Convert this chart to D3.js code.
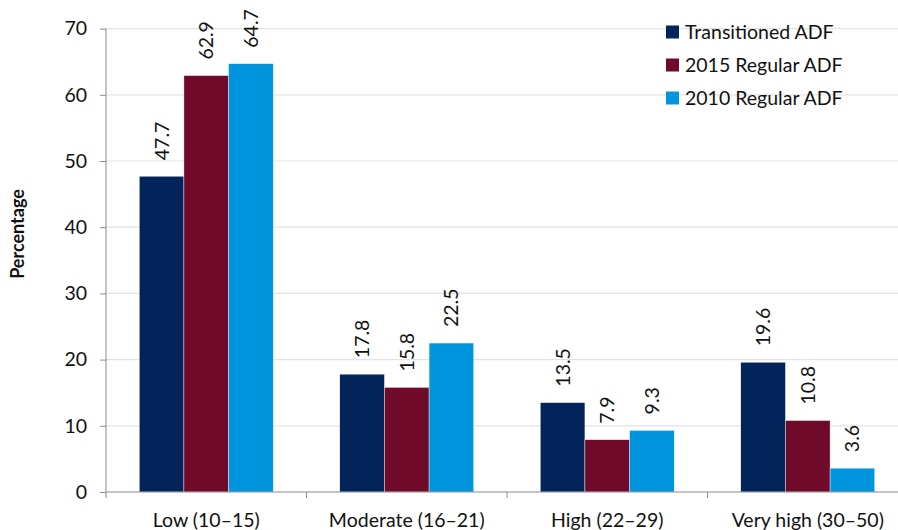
<!DOCTYPE html>
<html><head><meta charset="utf-8">
<script src="https://cdn.jsdelivr.net/npm/d3@7"></script>
<style>body{margin:0;background:#fff}svg{display:block;font-family:Lato,"Open Sans",sans-serif}</style>
</head><body><svg id="c" width="898" height="530"></svg>
<script>
const categories = ["Low (10–15)", "Moderate (16–21)", "High (22–29)", "Very high (30–50)"];
const seriesNames = ["Transitioned ADF", "2015 Regular ADF", "2010 Regular ADF"];
const transitioned = [47.7, 17.8, 13.5, 19.6];
const regular2015 = [62.9, 15.8, 7.9, 10.8];
const regular2010 = [64.7, 22.5, 9.3, 3.6];
const yTicks = [0, 10, 20, 30, 40, 50, 60, 70];
const colors = ["#03235b", "#6f0a2a", "#0095dc"];

(function () {
const seriesValues = [transitioned, regular2015, regular2010];
const svg = d3.select("#c");
const pLeft = 106, pRight = 908, pTop = 28.6, pBottom = 492;
const fs = 19.5;

const y = d3.scaleLinear().domain([0, 70]).range([pBottom, pTop]);
const x0 = d3.scaleBand().domain(categories).range([pLeft, pRight]).paddingInner(0.332).paddingOuter(0.166);
const x1 = d3.scaleBand().domain(seriesNames).range([0, x0.bandwidth()]);
const step = x0.step();

// gridlines
svg.append("g").selectAll("line").data(yTicks.filter(d => d > 0)).join("line")
  .attr("x1", pLeft).attr("x2", 898).attr("y1", d => y(d)).attr("y2", d => y(d))
  .attr("stroke", "#e3e3e3").attr("stroke-width", 1.2);

// bars
const rows = (c, i) => seriesNames.map((s, j) => ({s, j, v: seriesValues[j][i]}));
const groups = svg.append("g").selectAll("g").data(categories).join("g")
  .attr("transform", c => `translate(${x0(c)},0)`);
groups.selectAll("rect").data(rows).join("rect")
  .attr("x", d => x1(d.s)).attr("width", x1.bandwidth())
  .attr("y", d => y(d.v)).attr("height", d => pBottom - y(d.v))
  .attr("fill", d => colors[d.j]).attr("stroke", "#ffffff").attr("stroke-width", 0.4);
groups.selectAll("text").data(rows).join("text")
  .attr("transform", d => `translate(${x1(d.s) + x1.bandwidth() / 2 + 7},${y(d.v) - 16}) rotate(-90)`)
  .attr("font-size", fs).attr("fill", "#111").attr("text-anchor", "start")
  .text(d => d.v.toFixed(1));

// y axis
const yAxis = svg.append("g").attr("transform", `translate(${pLeft},0)`)
  .call(d3.axisLeft(y).tickValues(yTicks).tickSize(6).tickPadding(13));
yAxis.select(".domain").attr("stroke", "#8c8c8c").attr("d", `M0,${pBottom + 6}V${pTop}`);
yAxis.selectAll(".tick line").attr("stroke", "#8c8c8c");
yAxis.selectAll("text").attr("font-size", fs).attr("fill", "#111").attr("font-family", "Lato");

// x axis
const xg = svg.append("g");
xg.append("line").attr("x1", pLeft).attr("x2", 898).attr("y1", pBottom).attr("y2", pBottom).attr("stroke", "#8c8c8c").attr("stroke-width", 1.2);
xg.selectAll("line.t").data(d3.range(1, categories.length)).join("line").attr("class", "t")
  .attr("x1", i => pLeft + i * step).attr("x2", i => pLeft + i * step)
  .attr("y1", pBottom).attr("y2", pBottom + 6).attr("stroke", "#8c8c8c");
xg.selectAll("text").data(categories).join("text")
  .attr("x", c => x0(c) + x0.bandwidth() / 2).attr("y", 527)
  .attr("text-anchor", "middle").attr("font-size", fs).attr("fill", "#111").text(c => c);

// axis title
svg.append("text").attr("transform", `translate(24,234) rotate(-90)`)
  .attr("text-anchor", "middle").attr("font-size", 18).attr("font-weight", "bold").attr("fill", "#111")
  .text("Percentage");

// legend
const lg = svg.append("g").selectAll("g").data(seriesNames).join("g")
  .attr("transform", (d, i) => `translate(666,${32 + i * 33})`);
lg.append("rect").attr("x", 0).attr("y", -6.5).attr("width", 13).attr("height", 13).attr("fill", (d, i) => colors[i]);
lg.append("text").attr("x", 19).attr("y", 7).attr("font-size", fs).attr("fill", "#111").text(d => d);
})();
</script></body></html>
